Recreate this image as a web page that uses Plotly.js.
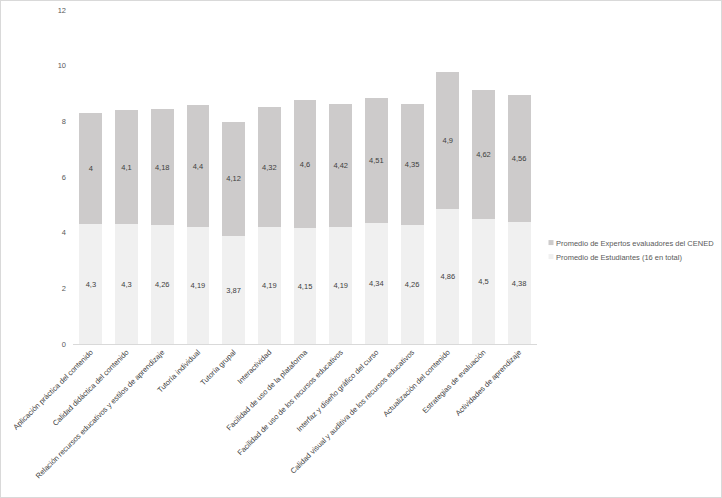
<!DOCTYPE html>
<html>
<head>
<meta charset="utf-8">
<script src="https://cdn.plot.ly/plotly-3.0.1.min.js"></script>
<style>
html,body{margin:0;padding:0;background:#fff;}
#wrap{width:722px;height:498px;box-sizing:border-box;border:1px solid #d9d9d9;position:relative;overflow:hidden;}
#chart{width:720px;height:496px;}
</style>
</head>
<body>
<div id="wrap"><div id="chart"></div></div>
<script>
const categories = [
  "Aplicación práctica del contenido",
  "Calidad didáctica del contenido",
  "Relación recursos educativos y estilos de aprendizaje",
  "Tutoría individual",
  "Tutoría grupal",
  "Interactividad",
  "Facilidad de uso de la plataforma",
  "Facilidad de uso de los recursos educativos",
  "Interfaz y diseño gráfico del curso",
  "Calidad visual y auditiva de los recursos educativos",
  "Actualización del contenido",
  "Estrategias de evaluación",
  "Actividades de aprendizaje"
];
const estudiantes = [4.3, 4.3, 4.26, 4.19, 3.87, 4.19, 4.15, 4.19, 4.34, 4.26, 4.86, 4.5, 4.38];
const expertos = [4, 4.1, 4.18, 4.4, 4.12, 4.32, 4.6, 4.42, 4.51, 4.35, 4.9, 4.62, 4.56];
const nameEst = "Promedio de Estudiantes (16 en total)";
const nameExp = "Promedio de Expertos evaluadores del CENED";
const yTicks = [0, 2, 4, 6, 8, 10, 12];

const fmt = v => String(v).replace('.', ',');
const FONT = 'Liberation Sans, Arial, sans-serif';

const traces = [
  {
    type: 'bar', name: nameEst, x: categories, y: estudiantes,
    marker: {color: '#f0f0f0'},
    text: estudiantes.map(fmt), textposition: 'inside', insidetextanchor: 'middle', textangle: 0,
    textfont: {family: FONT, size: 7.5, color: '#404040'},
    hoverinfo: 'x+y'
  },
  {
    type: 'bar', name: nameExp, x: categories, y: expertos,
    marker: {color: '#cdcbcb'},
    text: expertos.map(fmt), textposition: 'inside', insidetextanchor: 'middle', textangle: 0,
    textfont: {family: FONT, size: 7.5, color: '#404040'},
    hoverinfo: 'x+y'
  }
];

const layout = {
  width: 720, height: 496,
  barmode: 'stack',
  bargap: 0.36,
  paper_bgcolor: '#fff', plot_bgcolor: '#fff',
  margin: {l: 72, r: 184, t: 9, b: 153, autoexpand: false},
  font: {family: FONT, size: 7.5, color: '#595959'},
  xaxis: {
    tickangle: -45, tickfont: {size: 7.5, color: '#404040'},
    showline: true, linecolor: '#d9d9d9', linewidth: 1,
    ticks: '', showgrid: false, automargin: false
  },
  yaxis: {
    range: [0, 12], tickvals: yTicks, ticktext: yTicks.map(String),
    showgrid: false, zeroline: false, showline: false, ticks: '',
    tickfont: {size: 7.5, color: '#595959'}, ticklabelstandoff: 6, automargin: false
  },
  legend: {
    x: 0.8, y: 0.3, xanchor: 'left', yanchor: 'middle',
    traceorder: 'reversed', font: {size: 7.5, color: '#595959'},
    itemwidth: 30, tracegroupgap: 0, bgcolor: 'rgba(0,0,0,0)'
  },
  showlegend: true
};

Plotly.newPlot('chart', traces, layout, {displayModeBar: false, staticPlot: true}).then(function (gd) {
  const parseT = function (el) {
    const m = /translate\(([-\d.e]+)[ ,]+([-\d.e]+)\)/.exec(el.getAttribute('transform') || '');
    return m ? [parseFloat(m[1]), parseFloat(m[2])] : [0, 0];
  };
  // legend: small squares, 14px spacing, placed like the reference
  const items = gd.querySelectorAll('.legend .traces');
  let y0 = null;
  items.forEach(function (g, i) {
    const p = parseT(g);
    if (y0 === null) y0 = p[1];
    g.setAttribute('transform', 'translate(' + p[0] + ',' + (y0 + i * 14) + ')');
    const txt = g.querySelector('text.legendtext');
    const tx = txt ? parseFloat(txt.getAttribute('x')) || 40 : 40;
    g.querySelectorAll('.legendpoints path').forEach(function (path) {
      path.setAttribute('d', 'M2.5,2.5H-2.5V-2.5H2.5Z');
      path.setAttribute('transform', 'translate(' + (tx - 5) + ',0)');
    });
  });
  const leg = gd.querySelector('.legend');
  const firstTxt = gd.querySelector('.legend .traces text.legendtext');
  if (leg && firstTxt) {
    const r = firstTxt.getBoundingClientRect();
    const lp = parseT(leg);
    const dx = 556 - r.left;
    const dy = 243 - (r.top + r.bottom) / 2;
    leg.setAttribute('transform', 'translate(' + (lp[0] + dx) + ',' + (lp[1] + dy) + ')');
  }
});
</script>
</body>
</html>
